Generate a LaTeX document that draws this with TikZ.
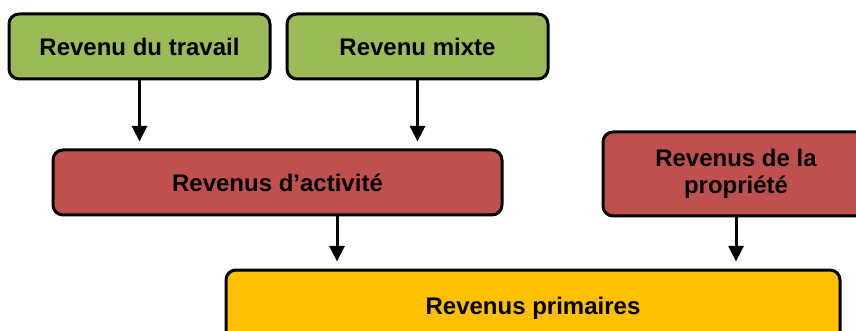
\documentclass[tikz,border=0pt]{standalone}
\usepackage{fontspec}
\setmainfont{Liberation Sans}
\usetikzlibrary{arrows.meta,positioning,calc}
\definecolor{vert}{HTML}{9BBB59}
\definecolor{rouge}{HTML}{C0504D}
\definecolor{jaune}{HTML}{FFC000}
\tikzset{
  boite/.style={draw=black,line width=1.5pt,rounded corners=5pt,align=center,
                font=\fontsize{12}{13.7}\selectfont\bfseries,inner sep=2pt,minimum height=32.5pt},
  fleche/.style={-{Triangle[length=7.8pt,width=7.5pt]},line width=1.5pt,shorten >=3.5pt},
}
\begin{document}
\begin{tikzpicture}[x=0.5pt,y=-0.5pt]
  \useasboundingbox (0,0) rectangle (856,331);
  \node[boite,fill=vert,minimum width=130.5pt] (travail) at (139.5,46.5) {Revenu du travail};
  \node[boite,fill=vert,minimum width=130.5pt] (mixte) at (417.5,46.5) {Revenu mixte};
  \node[boite,fill=rouge,minimum width=224.5pt] (activite) at (277.5,182.5) {Revenus d’activité};
  \node[boite,fill=rouge,minimum width=133pt,minimum height=42pt] (propriete) at (736,174) {Revenus de la\\propriété};
  \node[boite,fill=jaune,minimum width=307pt,minimum height=40pt] (primaires) at (533,310) {\raisebox{4pt}{Revenus primaires}};
  \draw[fleche] (travail)--(travail.south |- activite.north);
  \draw[fleche] (mixte)--(mixte.south |- activite.north);
  \draw[fleche] ([xshift=29.75pt]activite.south)--([xshift=29.75pt]activite.south |- primaires.north);
  \draw[fleche] (propriete)--(propriete.south |- primaires.north);
\end{tikzpicture}
\end{document}
